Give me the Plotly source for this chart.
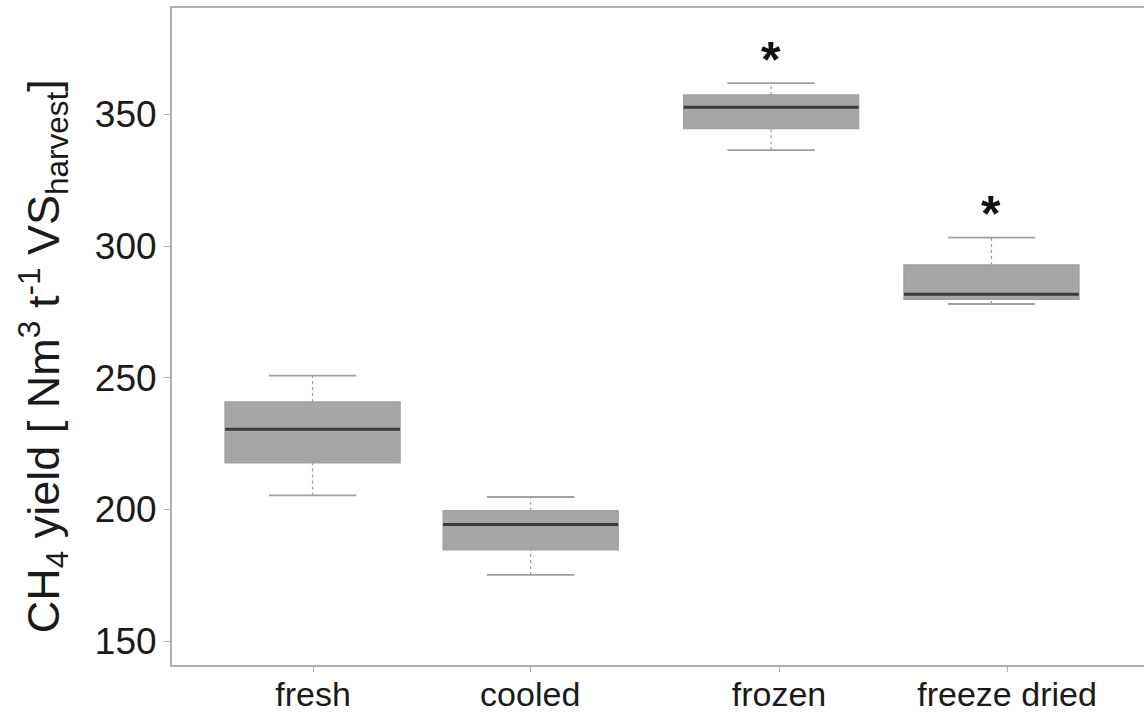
import plotly.graph_objects as go

# ---- data ----
categories = ["fresh", "cooled", "frozen", "freeze dried"]
box_pos = [1.0, 1.965, 3.029, 4.004]
tick_pos = [1.002, 1.963, 3.064, 4.073]
lower_whisker = [205.3, 175.1, 336.4, 278.0]
q1 = [217.7, 184.7, 344.6, 279.8]
median = [230.4, 194.3, 352.7, 281.7]
q3 = [240.8, 199.5, 357.4, 292.8]
upper_whisker = [250.8, 204.7, 361.9, 303.2]
significance = ["", "", "*", "*"]
y_ticks = [150, 200, 250, 300, 350]

BOX_W = 0.774
CAP_W = BOX_W / 2
FONT = "Liberation Sans, Arial, sans-serif"
LINE_GREY = "#a0a0a0"

fig = go.Figure()

# dotted whisker stems
sx, sy = [], []
for p, lo, a, b, hi in zip(box_pos, lower_whisker, q1, q3, upper_whisker):
    sx += [p, p, None, p, p, None]
    sy += [lo, a, None, b, hi, None]
fig.add_trace(go.Scatter(x=sx, y=sy, mode="lines",
                         line=dict(color=LINE_GREY, width=1.3, dash="dot"),
                         showlegend=False, hoverinfo="skip"))

# whisker caps
cx, cy = [], []
for p, lo, hi in zip(box_pos, lower_whisker, upper_whisker):
    cx += [p - CAP_W / 2, p + CAP_W / 2, None, p - CAP_W / 2, p + CAP_W / 2, None]
    cy += [lo, lo, None, hi, hi, None]
fig.add_trace(go.Scatter(x=cx, y=cy, mode="lines",
                         line=dict(color=LINE_GREY, width=1.8),
                         showlegend=False, hoverinfo="skip"))

# boxes (no whiskers)
fig.add_trace(go.Box(
    x=box_pos, q1=q1, median=median, q3=q3,
    lowerfence=q1, upperfence=q3,
    width=BOX_W, whiskerwidth=0,
    fillcolor="#a6a6a6", line=dict(color="#a0a0a0", width=1.5),
    boxpoints=False, showlegend=False, hoverinfo="skip",
))

# median lines (dark)
mx, my = [], []
for p, m in zip(box_pos, median):
    mx += [p - BOX_W / 2, p + BOX_W / 2, None]
    my += [m, m, None]
fig.add_trace(go.Scatter(x=mx, y=my, mode="lines",
                         line=dict(color="#3a3a3a", width=3),
                         showlegend=False, hoverinfo="skip"))

for p, s, u in zip(box_pos, significance, upper_whisker):
    if s:
        fig.add_annotation(x=p, y=u - 2.5, text="<b>" + s + "</b>", showarrow=False,
                           yanchor="bottom", xanchor="center",
                           font=dict(family=FONT, size=50, color="#111111"))

fig.add_annotation(
    xref="paper", yref="paper", x=-0.1327, y=0.47,
    text="CH<sub>4</sub> yield [ Nm<sup>3</sup> t<sup>-1</sup> VS<sub>harvest</sub>]",
    textangle=-90, showarrow=False, xanchor="center", yanchor="middle",
    font=dict(family=FONT, size=45, color="#1a1a1a"))

fig.update_xaxes(
    range=[0.378, 4.679], tickvals=tick_pos, ticktext=categories,
    showline=True, mirror=True, linecolor="#b0b0b0", linewidth=2,
    ticks="outside", ticklen=5, tickcolor="#b0b0b0", tickwidth=1,
    ticklabelstandoff=-7,
    showgrid=False, zeroline=False, automargin=False,
    tickfont=dict(family=FONT, size=34, color="#1a1a1a"))
fig.update_yaxes(
    range=[140.9, 390.4], tickvals=y_ticks,
    showline=True, mirror=False, linecolor="#b0b0b0", linewidth=2,
    ticks="outside", ticklen=6, tickcolor="#b0b0b0", tickwidth=1,
    showgrid=False, zeroline=False, automargin=False,
    tickfont=dict(family=FONT, size=37, color="#1a1a1a"))

fig.update_layout(
    width=1144, height=715,
    margin=dict(l=172, r=0, t=8, b=50),
    plot_bgcolor="white", paper_bgcolor="white",
    showlegend=False,
)
fig.write_html("out.html")
